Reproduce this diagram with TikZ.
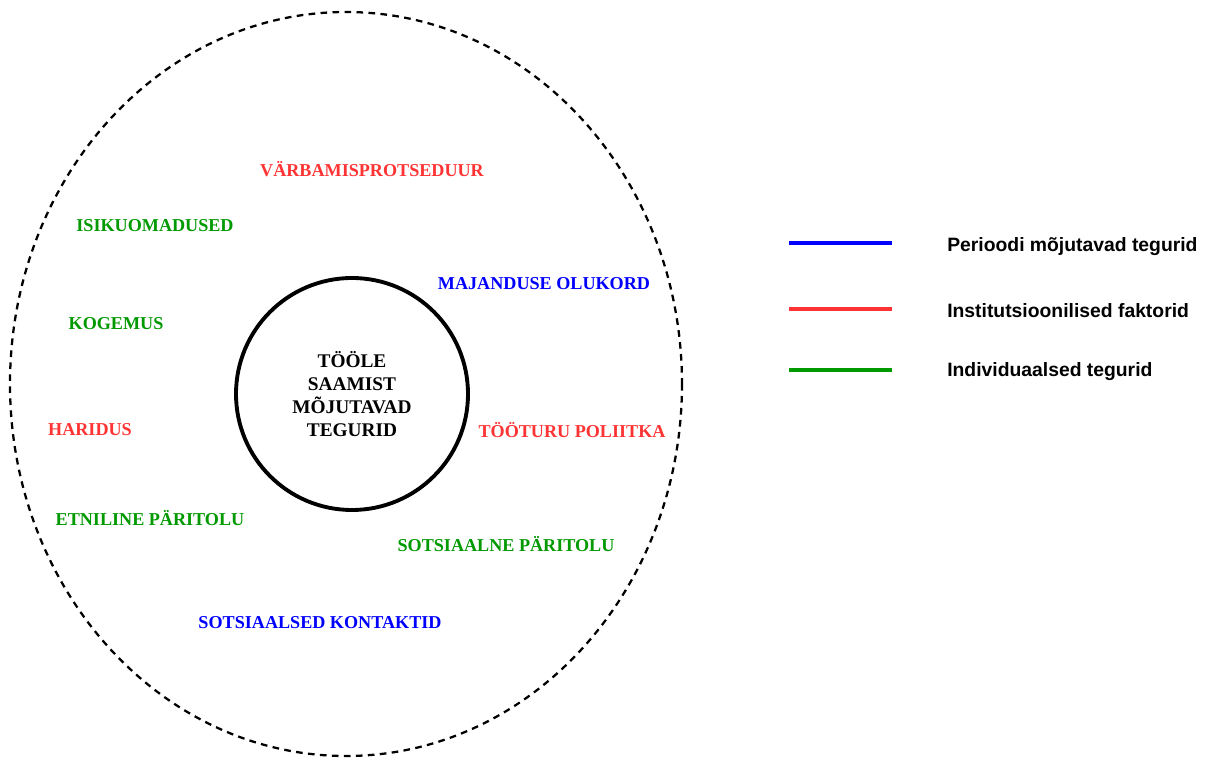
\documentclass[tikz,border=0pt]{standalone}
\usepackage{fontspec}
\setmainfont{Liberation Serif}
\newfontfamily\legendfont{Liberation Sans}
\usetikzlibrary{positioning}
\definecolor{perblue}{RGB}{0,0,255}
\definecolor{instred}{RGB}{255,51,51}
\definecolor{indgreen}{RGB}{0,153,0}
\tikzset{
    factor/.style={font=\bfseries\fontsize{13.6}{15}\selectfont, inner sep=0pt},
    keyline/.style={line width=3pt},
    keytext/.style={font=\legendfont\bfseries\fontsize{14.5}{16}\selectfont, anchor=west, inner sep=0pt}
}
\begin{document}
\begin{tikzpicture}[x=0.75pt,y=-0.75pt]
            \useasboundingbox (0,0) rectangle (1208,766);

            % outer ellipse
            \draw[line width=1.7pt, dash pattern=on 5pt off 4pt] (346,384) ellipse (336 and 372);

            % centre circle
            \node[draw, circle, line width=2.9pt, minimum size=174pt, align=center,
                  font=\bfseries\fontsize{14.5}{17.3}\selectfont] (core) at (352,394)
                  {TÖÖLE\\SAAMIST\\MÕJUTAVAD\\TEGURID};

            % factors
            \node[factor, text=instred] (varb) at (372,169) {VÄRBAMISPROTSEDUUR};
            \node[factor, text=indgreen] (isik) at (155,226) {ISIKUOMADUSED};
            \node[factor, text=perblue] (maj) at (544,284) {MAJANDUSE OLUKORD};
            \node[factor, text=indgreen] (kog) at (116,324) {KOGEMUS};
            \node[factor, text=instred] (har) at (90,430) {HARIDUS};
            \node[factor, text=instred] (too) at (572,430) {TÖÖTURU POLIITKA};
            \node[factor, text=indgreen] (etn) at (150,518) {ETNILINE PÄRITOLU};
            \node[factor, text=indgreen] (sots) at (506,544) {SOTSIAALNE PÄRITOLU};
            \node[factor, text=perblue] (kont) at (320,623) {SOTSIAALSED KONTAKTID};

            % legend
            \coordinate (pA) at (789,243);
            \coordinate (pB) at (892,243);
            \coordinate (iA) at (789,309);
            \coordinate (iB) at (892,309);
            \coordinate (gA) at (789,370);
            \coordinate (gB) at (892,370);
            \draw[keyline, perblue] (pA) -- (pB);
            \draw[keyline, instred] (iA) -- (iB);
            \draw[keyline, indgreen] (gA) -- (gB);
            \node[keytext] (per) at (947,247) {Perioodi mõjutavad tegurid};
            \node[keytext] (inst) at (947,311) {Institutsioonilised faktorid};
            \node[keytext] (ind) at (947,372) {Individuaalsed tegurid};
        \end{tikzpicture}
\end{document}
